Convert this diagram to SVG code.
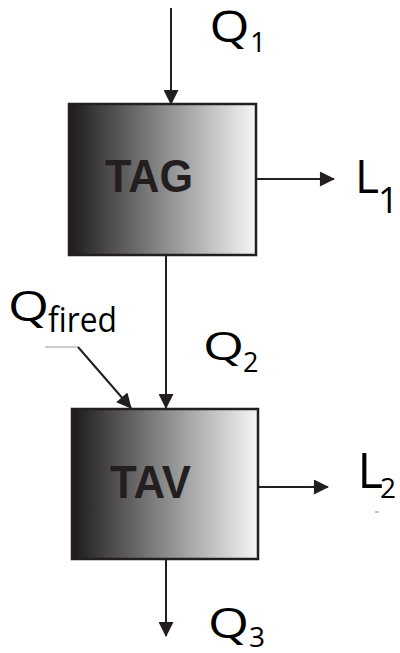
<svg xmlns="http://www.w3.org/2000/svg" width="400" height="653" viewBox="0 0 400 653">
  <style>
    .box { stroke: #231f20; stroke-width: 2.5; fill: url(#grad); }
    .lbl { font-family: "Open Sans", "Liberation Sans", sans-serif; fill: #000; }
    .name { font-family: "Liberation Sans", Arial, sans-serif; font-weight: bold; fill: #231f20; font-size: 47px; }
    .conn { stroke: #231f20; stroke-width: 2; fill: none; marker-end: url(#arr); }
  </style>
  <defs>
    <linearGradient id="grad" x1="0" y1="0" x2="1" y2="0">
      <stop offset="0" stop-color="#1e1a1b"/>
      <stop offset="0.5" stop-color="#8a8a8a"/>
      <stop offset="1" stop-color="#f6f6f6"/>
    </linearGradient>
    <marker id="arr" viewBox="0 0 16 16" markerWidth="17" markerHeight="15" refX="15" refY="8" orient="auto" markerUnits="userSpaceOnUse">
      <path d="M0,0 L16,8 L0,16 z" fill="#231f20"/>
    </marker>
  </defs>
  <rect width="400" height="653" fill="#fff"/>

  <g id="connectors">
    <line class="conn" x1="171" y1="8" x2="171" y2="104"/>
    <line class="conn" x1="256" y1="179" x2="334" y2="179"/>
    <line class="conn" x1="166" y1="256" x2="166" y2="408"/>
    <line x1="45" y1="347" x2="78" y2="347" stroke="#9a9a9a" stroke-width="1"/>
    <line class="conn" x1="78" y1="347" x2="131" y2="408"/>
    <line class="conn" x1="258" y1="487" x2="328" y2="487"/>
    <line class="conn" x1="166" y1="559" x2="166" y2="636"/>
  </g>

  <g id="TAG">
    <rect class="box" x="69" y="104" width="187" height="151"/>
    <text class="name" x="149" y="192" text-anchor="middle" textLength="88" lengthAdjust="spacingAndGlyphs">TAG</text>
  </g>
  <g id="TAV">
    <rect class="box" x="72" y="409" width="186" height="150"/>
    <text class="name" x="150.5" y="498" text-anchor="middle" textLength="81" lengthAdjust="spacingAndGlyphs">TAV</text>
  </g>

  <g id="labels">
    <text class="lbl" x="209.5" y="42" font-size="44" textLength="40" lengthAdjust="spacingAndGlyphs">Q</text>
    <text class="lbl" x="250" y="52" font-size="28">1</text>
    <text class="lbl" x="355" y="193" font-size="46">L</text>
    <text class="lbl" x="378" y="213" font-size="36">1</text>
    <text class="lbl" x="203" y="360" font-size="39" textLength="41" lengthAdjust="spacingAndGlyphs">Q</text>
    <text class="lbl" x="243" y="372" font-size="27">2</text>
    <text class="lbl" x="357.5" y="488" font-size="49">L</text>
    <text class="lbl" x="380" y="498" font-size="28">2</text>
    <text class="lbl" x="208" y="638" font-size="42" textLength="41" lengthAdjust="spacingAndGlyphs">Q</text>
    <text class="lbl" x="249" y="647" font-size="28">3</text>
    <text class="lbl" x="8" y="321" font-size="42" textLength="41" lengthAdjust="spacingAndGlyphs">Q</text>
    <text class="lbl" x="48" y="332" font-size="35" textLength="69" lengthAdjust="spacingAndGlyphs">fired</text>
  </g>
  <line x1="375" y1="512" x2="379" y2="512" stroke="#888" stroke-width="1"/>
</svg>
